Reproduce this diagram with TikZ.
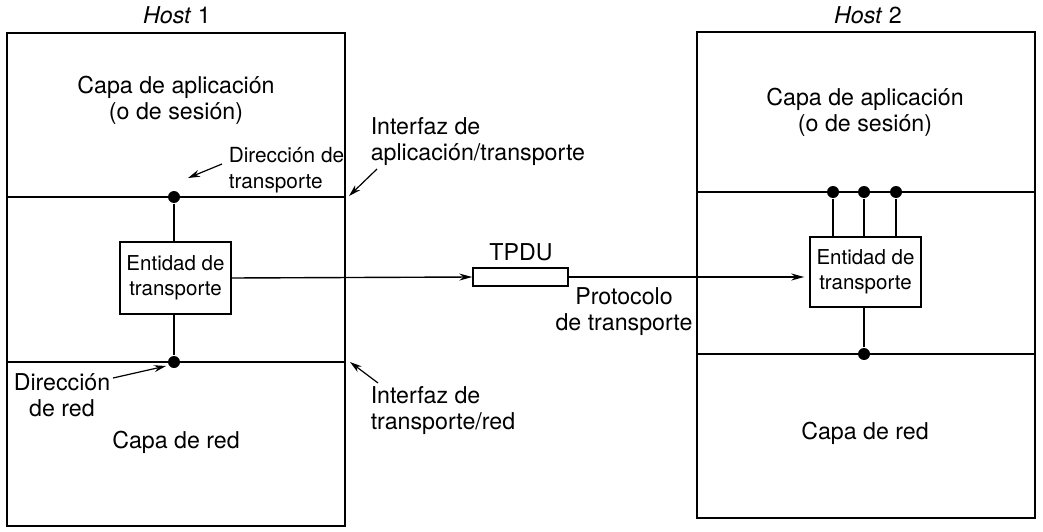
\documentclass[tikz,border=0pt]{standalone}
\usepackage{fontspec}
\setmainfont{TeX Gyre Heros}
\usetikzlibrary{arrows.meta}
\begin{document}
\begin{tikzpicture}[x=1pt,y=-1pt,
  line width=1.5pt,
  txt/.style={inner sep=0pt,align=center,font=\fontsize{23.2}{26}\selectfont},
  smalltxt/.style={inner sep=0pt,font=\fontsize{20.8}{26.5}\selectfont},
  entbox/.style={draw,line width=1.5pt,minimum width=111pt,minimum height=72pt,inner sep=0pt,align=center,font=\fontsize{20.5}{25}\selectfont},
  dot/.style={circle,fill=black,inner sep=0pt,minimum size=12pt},
  pointer/.style={-{Stealth[length=12pt,width=7pt]},line width=1.2pt},
  flow/.style={-{Stealth[length=13pt,width=7pt]},line width=1.4pt}]
\useasboundingbox (0,0) rectangle (1043,532);
% host boxes
\draw (7,33) rectangle (345,526);
\draw (7,197) -- (345,197);
\draw (7,362) -- (345,362);
\draw (697,32) rectangle (1035,518);
\draw (697,192) -- (1035,192);
\draw (697,354) -- (1035,354);
% titles
\node[txt] (t1) at (177,15) {\textit{Host} 1};
\node[txt] (t2) at (868,15) {\textit{Host} 2};
% layer texts
\node[txt] (app1) at (176,100) {Capa de aplicación\\(o de sesión)};
\node[txt] (red1) at (176,442) {Capa de red};
\node[txt] (app2) at (865,112) {Capa de aplicación\\(o de sesión)};
\node[txt] (red2) at (865,433) {Capa de red};
% entities
\node[entbox] (e1) at (175.5,278) {Entidad de\\transporte};
\node[entbox,minimum height=70pt] (e2) at (865.5,272) {Entidad de\\transporte};
% dots
\node[dot] (d1) at (174,197) {};
\node[dot] (d2) at (174,362) {};
\node[dot] (d3) at (833,192) {};
\node[dot] (d4) at (864,192) {};
\node[dot] (d5) at (896,192) {};
\node[dot] (d6) at (864,354) {};
\draw (d1) -- (d1 |- e1.north);
\draw (d2) -- (d2 |- e1.south);
\draw (d3) -- (d3 |- e2.north);
\draw (d4) -- (d4 |- e2.north);
\draw (d5) -- (d5 |- e2.north);
\draw (d6) -- (d6 |- e2.south);
% TPDU
\node[draw,line width=1.5pt,minimum width=95pt,minimum height=18pt,inner sep=0pt] (tpdu) at (520.5,277) {};
\node[txt] (tpdul) at (521,252) {TPDU};
\draw[flow] (e1.east) -- (tpdu.west);
\draw[flow,shorten >=5pt] (tpdu.east) -- (tpdu.east -| e2.west);
\node[txt] (prot) at (624,312) {Protocolo\\de transporte};
% annotations
\node[smalltxt,align=left,anchor=west] (dirt) at (228,170) {Dirección de\\transporte};
\coordinate (dirtA) at (222,164);
\coordinate (dirtB) at (188,178);
\draw[pointer] (dirtA) -- (dirtB);
\node[txt,align=left,anchor=west] (iat) at (370,142) {Interfaz de\\aplicación/transporte};
\coordinate (iatA) at (377,169);
\coordinate (iatB) at (349,196);
\draw[pointer] (iatA) -- (iatB);
\node[txt] (dirr) at (62,395) {Dirección\\de red};
\coordinate (dirrA) at (113,378);
\coordinate (dirrB) at (166,366);
\draw[pointer] (dirrA) -- (dirrB);
\node[txt,align=left,anchor=west] (itr) at (370,411) {Interfaz de\\transporte/red};
\coordinate (itrA) at (378,383);
\coordinate (itrB) at (350,362);
\draw[pointer] (itrA) -- (itrB);
\end{tikzpicture}
\end{document}
